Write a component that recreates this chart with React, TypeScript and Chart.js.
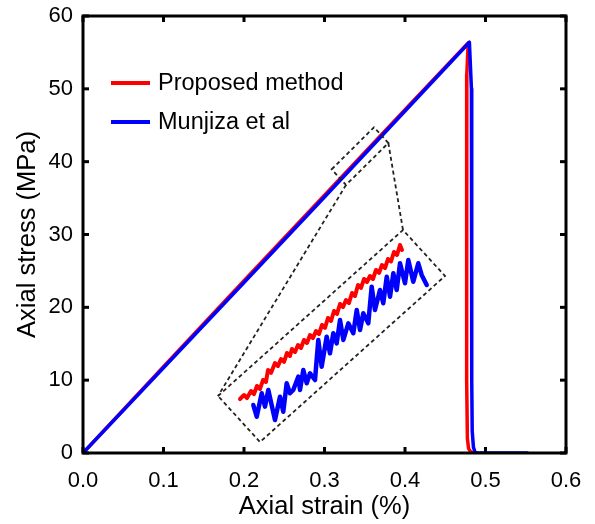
import React, { useEffect, useRef } from "react";
import { Chart, registerables } from "chart.js";

Chart.register(...registerables);

// ---- axes ----
const xTickValues = [0, 0.1, 0.2, 0.3, 0.4, 0.5, 0.6];
const xTickLabels = ["0.0", "0.1", "0.2", "0.3", "0.4", "0.5", "0.6"];
const yTickValues = [0, 10, 20, 30, 40, 50, 60];
const yTickLabels = ["0", "10", "20", "30", "40", "50", "60"];
const xTitle = "Axial strain (%)";
const yTitle = "Axial stress (MPa)";

// ---- series ----
const seriesNames = ["Proposed method", "Munjiza et al"];
const seriesColors = ["#ff0000", "#0000ff"];

const proposedStrain = [0, 0.1, 0.2, 0.3, 0.4, 0.4785, 0.4768, 0.4766, 0.4775, 0.479, 0.482, 0.488];
const proposedStress = [0, 11.85, 23.65, 35.4, 47.15, 56.3, 52, 10, 2, 0.6, 0.1, 0];

const munjizaStrain = [0, 0.1, 0.2, 0.3, 0.4, 0.48, 0.4825, 0.4829, 0.4835, 0.485, 0.487, 0.49, 0.552];
const munjizaStress = [0, 11.7, 23.4, 35.15, 46.95, 56.4, 50, 10, 3, 0.8, 0.1, 0, 0];

// ---- inset (magnified view, plotted in the same axes) ----
const insetProposedStrain = [
  0.195, 0.2, 0.2037, 0.2087, 0.2124, 0.2161, 0.2199, 0.2236, 0.2273, 0.2298, 0.2335, 0.2385, 0.2422, 0.246,
  0.2497, 0.2534, 0.2571, 0.2596, 0.2634, 0.2671, 0.2708, 0.2745, 0.2783, 0.282, 0.2857, 0.2894, 0.2932,
  0.2969, 0.3006, 0.3043, 0.3081, 0.3118, 0.3155, 0.3193, 0.323, 0.3267, 0.3304, 0.3342, 0.3379, 0.3416,
  0.3453, 0.3491, 0.3528, 0.3565, 0.3602, 0.364, 0.3677, 0.3714, 0.3752, 0.3789, 0.3826, 0.3863, 0.3901,
  0.3938, 0.3963,
];
const insetProposedStress = [
  7.41, 7.96, 7.55, 8.51, 8.1, 9.2, 8.79, 10.02, 9.75, 11.4, 11.0, 12.36, 11.95, 12.91, 12.5, 13.73, 13.32,
  14.28, 13.87, 14.83, 14.42, 15.52, 15.11, 16.2, 15.79, 16.75, 16.34, 17.58, 17.17, 18.54, 18.13, 19.5,
  19.09, 20.46, 20.05, 21.01, 20.6, 21.97, 21.56, 23.07, 22.66, 23.89, 23.48, 24.3, 23.89, 25.13, 24.72,
  25.81, 25.4, 26.64, 26.3, 27.6, 27.19, 28.56, 27.87,
];
const insetMunjizaStrain = [
  0.2116, 0.2158, 0.222, 0.2261, 0.2302, 0.2385, 0.2447, 0.2488, 0.253, 0.2571, 0.2612, 0.2674, 0.2696,
  0.2737, 0.2779, 0.282, 0.2882, 0.2923, 0.2965, 0.3027, 0.3068, 0.3109, 0.3151, 0.3193, 0.3234, 0.3296,
  0.3358, 0.34, 0.3441, 0.3482, 0.3544, 0.3586, 0.3627, 0.3689, 0.373, 0.3773, 0.3814, 0.3855, 0.3897,
  0.3938, 0.4, 0.4041, 0.4103, 0.4165, 0.4207, 0.427,
];
const insetMunjizaStress = [
  6.59, 4.98, 8.2, 6.36, 8.65, 4.53, 7.73, 5.67, 9.57, 8.2, 8.65, 10.48, 8.65, 11.4, 9.57, 10.94, 10.02,
  15.52, 11.85, 15.97, 13.69, 16.44, 15.06, 18.26, 15.52, 17.81, 16.44, 19.64, 16.89, 19.18, 17.81, 22.84,
  19.64, 22.38, 20.56, 24.21, 21.46, 24.67, 22.38, 26.05, 23.3, 26.5, 23.52, 26.05, 24.44, 23.07,
];

// dashed boxes (corners in data units) and connectors
const insetBoxStrain = [0.1677, 0.3975, 0.4497, 0.2199];
const insetBoxStress = [7.83, 30.62, 24.3, 1.51];
const zoomBoxStrain = [0.3089, 0.3615, 0.3793, 0.3267];
const zoomBoxStress = [38.95, 44.72, 42.56, 36.8];

const zip = (xs: number[], ys: number[]) => xs.map((x, i) => ({ x, y: ys[i] }));

const FONT = "'Liberation Sans', Arial, sans-serif";

const overlayPlugin = {
  id: "overlay",
  afterDraw(chart: any) {
    const ctx: CanvasRenderingContext2D = chart.ctx;
    const a = chart.chartArea;
    const sx = chart.scales.x;
    const sy = chart.scales.y;
    const px = (v: number) => sx.getPixelForValue(v);
    const py = (v: number) => sy.getPixelForValue(v);
    const L = a.left, R = a.right, T = a.top, B = a.bottom;

    const line = (x1: number, y1: number, x2: number, y2: number) => {
      ctx.beginPath();
      ctx.moveTo(x1, y1);
      ctx.lineTo(x2, y2);
      ctx.stroke();
    };

    // dashed boxes and connectors
    ctx.save();
    ctx.setLineDash([4, 3]);
    ctx.lineWidth = 1.8;
    ctx.strokeStyle = "#222222";
    const poly = (xs: number[], ys: number[]) => {
      ctx.beginPath();
      for (let i = 0; i < xs.length; i++) {
        const X = px(xs[i]);
        const Y = py(ys[i]);
        if (i === 0) ctx.moveTo(X, Y);
        else ctx.lineTo(X, Y);
      }
      ctx.closePath();
      ctx.stroke();
    };
    poly(insetBoxStrain, insetBoxStress);
    poly(zoomBoxStrain, zoomBoxStress);
    line(px(zoomBoxStrain[3]), py(zoomBoxStress[3]), px(insetBoxStrain[0]), py(insetBoxStress[0]));
    line(px(zoomBoxStrain[2]), py(zoomBoxStress[2]), px(insetBoxStrain[1]), py(insetBoxStress[1]));
    ctx.restore();

    // frame
    ctx.save();
    ctx.setLineDash([]);
    ctx.strokeStyle = "#000000";
    ctx.lineWidth = 3;
    ctx.lineCap = "butt";
    ctx.beginPath();
    ctx.moveTo(L, T);
    ctx.lineTo(R, T);
    ctx.lineTo(R, B);
    ctx.lineTo(L, B);
    ctx.closePath();
    ctx.stroke();

    // inward ticks on all four sides
    const tl = 6;
    xTickValues.forEach((v) => {
      const X = px(v);
      line(X, B, X, B - tl);
      line(X, T, X, T + tl);
    });
    yTickValues.forEach((v) => {
      const Y = py(v);
      line(L, Y, L + tl, Y);
      line(R, Y, R - tl, Y);
    });
    ctx.restore();

    // legend
    ctx.save();
    ctx.font = `23.5px ${FONT}`;
    ctx.textBaseline = "middle";
    ctx.textAlign = "left";
    seriesNames.forEach((name, i) => {
      const y = T + 67 + i * 39;
      ctx.strokeStyle = seriesColors[i];
      ctx.lineWidth = 4;
      line(L + 28, y, L + 67, y);
      ctx.fillStyle = "#000000";
      ctx.fillText(name, L + 75, y + 1);
    });
    ctx.restore();
  },
};

export default function App() {
  const ref = useRef<HTMLCanvasElement | null>(null);

  useEffect(() => {
    document.body.style.margin = "0";
    if (!ref.current) return;
    const lineDs = (label: string, data: any[], color: string, width: number, order: number) => ({
      label,
      data,
      borderColor: color,
      backgroundColor: color,
      borderWidth: width,
      showLine: true,
      pointRadius: 0,
      pointHoverRadius: 0,
      tension: 0,
      fill: false,
      borderJoinStyle: "round" as const,
      borderCapStyle: "round" as const,
      order,
    });
    const chart = new Chart(ref.current, {
      type: "scatter",
      data: {
        datasets: [
          lineDs(seriesNames[0], zip(proposedStrain, proposedStress), seriesColors[0], 3.5, 2),
          lineDs(seriesNames[1], zip(munjizaStrain, munjizaStress), seriesColors[1], 3.5, 1),
          lineDs(seriesNames[0] + " (inset)", zip(insetProposedStrain, insetProposedStress), seriesColors[0], 4, 2),
          lineDs(seriesNames[1] + " (inset)", zip(insetMunjizaStrain, insetMunjizaStress), seriesColors[1], 4.5, 1),
        ],
      },
      options: {
        animation: false,
        responsive: false,
        layout: { padding: { top: 16, right: 29, left: 0, bottom: 0 } },
        plugins: { legend: { display: false }, tooltip: { enabled: false } },
        scales: {
          x: {
            type: "linear",
            min: 0,
            max: 0.6,
            afterBuildTicks: (s: any) => {
              s.ticks = xTickValues.map((v) => ({ value: v }));
            },
            afterFit: (s: any) => {
              s.height = 71;
              s.paddingLeft = 0;
              s.paddingRight = 0;
            },
            ticks: {
              callback: (v: any) => xTickLabels[xTickValues.findIndex((t) => Math.abs(t - v) < 1e-9)] ?? "",
              font: { family: FONT, size: 22 },
              color: "#000",
              padding: 15,
              maxRotation: 0,
              autoSkip: false,
            },
            grid: { display: false, drawTicks: false },
            border: { display: false },
            title: {
              display: true,
              text: xTitle,
              font: { family: FONT, size: 25.5 },
              color: "#000",
              padding: { top: 0, bottom: 2 },
            },
          },
          y: {
            type: "linear",
            min: 0,
            max: 60,
            afterBuildTicks: (s: any) => {
              s.ticks = yTickValues.map((v) => ({ value: v }));
            },
            afterFit: (s: any) => {
              s.width = 83;
              s.paddingTop = 0;
              s.paddingBottom = 0;
            },
            ticks: {
              callback: (v: any) => yTickLabels[yTickValues.indexOf(v)] ?? "",
              font: { family: FONT, size: 22 },
              color: "#000",
              padding: 10,
              autoSkip: false,
            },
            grid: { display: false, drawTicks: false },
            border: { display: false },
            title: {
              display: true,
              text: yTitle,
              font: { family: FONT, size: 25.5 },
              color: "#000",
              padding: { top: 13, bottom: 0 },
            },
          },
        },
      },
      plugins: [overlayPlugin],
    });
    return () => chart.destroy();
  }, []);

  return (
    <div style={{ position: "absolute", left: 0, top: 0, width: 595, height: 524 }}>
      <canvas ref={ref} width={595} height={524} style={{ width: 595, height: 524 }} />
    </div>
  );
}
